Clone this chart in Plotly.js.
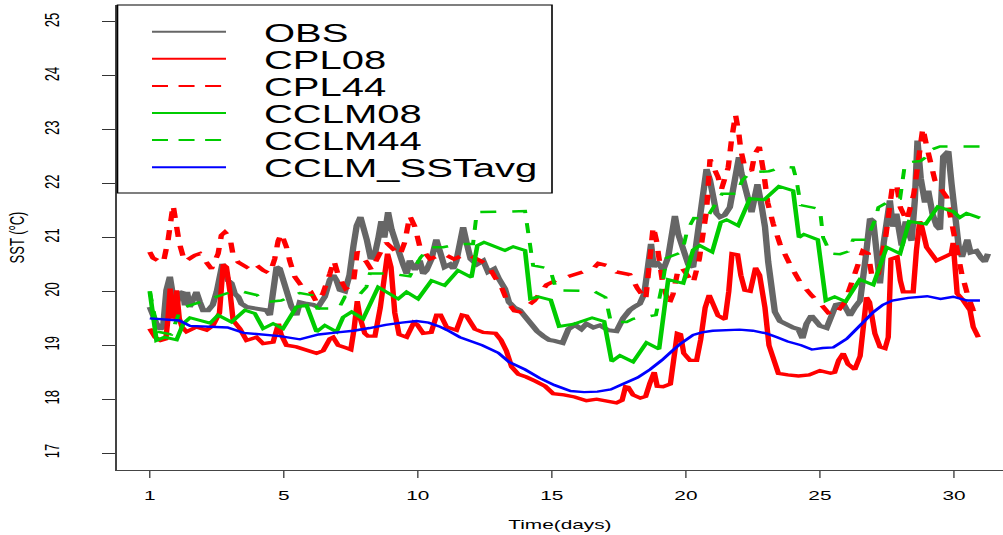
<!DOCTYPE html>
<html><head><meta charset="utf-8">
<script src="https://cdn.plot.ly/plotly-3.0.1.min.js"></script>
<style>
html,body{margin:0;padding:0;overflow:hidden;background:#fff;width:1003px;height:535px;}
#wrap{width:627px;height:535px;transform:scaleX(1.59968);transform-origin:0 0;}
</style></head><body><div id="wrap"><div id="chart"></div></div>
<script>
// ---- data (time in days since start, SST in degC) ----
var tickPositions = [0,5,10,15,20,25,30];
var tickLabels = ["1","5","10","15","20","25","30"];
var seriesNames = ["OBS","CPL08","CPL44","CCLM08","CCLM44","CCLM_SSTavg"];

var obsTime = [0,0.12,0.25,0.4,0.5,0.62,0.75,0.84,0.93,1.02,1.12,1.24,1.31,1.39,1.49,1.62,1.74,1.87,1.99,2.18,2.35,2.5,2.61,2.71,2.8,2.92,3.05,3.17,3.3,3.42,3.61,3.98,4.35,4.48,4.6,4.73,4.85,4.97,5.12,5.29,5.47,5.6,5.85,6.1,6.28,6.53,6.72,6.85,6.97,7.09,7.28,7.45,7.6,7.72,7.86,7.98,8.1,8.25,8.4,8.52,8.64,8.75,8.89,9.02,9.14,9.27,9.45,9.58,9.7,9.89,10.07,10.2,10.32,10.51,10.69,10.85,11.0,11.2,11.32,11.44,11.58,11.69,11.82,11.97,12.2,12.44,12.62,12.85,13.03,13.25,13.4,13.6,13.81,14.05,14.24,14.45,14.68,14.9,15.1,15.4,15.62,15.86,16.1,16.29,16.55,16.79,17.1,17.41,17.66,17.9,18.1,18.28,18.45,18.6,18.7,18.8,18.9,19.03,19.15,19.34,19.46,19.59,19.71,19.84,19.96,20.09,20.27,20.4,20.52,20.65,20.77,20.9,21.02,21.14,21.27,21.45,21.64,21.77,21.89,21.98,22.07,22.2,22.33,22.45,22.57,22.67,22.82,22.95,23.07,23.2,23.32,23.51,23.76,24.0,24.2,24.35,24.5,24.68,24.85,25.0,25.25,25.45,25.6,25.87,26.12,26.3,26.5,26.7,26.87,26.99,27.11,27.24,27.38,27.5,27.61,27.72,27.85,28.05,28.2,28.3,28.42,28.54,28.64,28.76,28.92,29.04,29.2,29.35,29.48,29.6,29.79,29.91,30.04,30.18,30.3,30.5,30.62,30.84,31.02,31.15,31.27];
var obsSST = [19.71,19.52,19.4,19.3,19.35,20.02,20.27,20.0,19.52,19.8,19.96,19.99,19.74,19.99,19.71,19.85,19.99,19.8,19.65,19.65,19.75,20.0,20.27,20.51,20.4,20.2,20.15,19.96,19.9,19.77,19.71,19.68,19.65,19.56,20.02,20.45,20.42,20.2,19.95,19.71,19.56,19.8,19.77,19.75,19.71,19.9,20.22,20.3,20.2,20.03,20.0,20.3,20.85,21.22,21.38,21.2,20.95,20.6,20.7,20.97,21.3,21.0,21.47,21.15,20.97,20.7,20.5,20.33,20.57,20.4,20.57,20.33,20.39,20.6,20.96,20.7,20.45,20.5,20.42,20.57,20.9,21.19,20.9,20.6,20.5,20.57,20.36,20.42,20.23,20.05,19.8,19.7,19.65,19.5,19.38,19.26,19.17,19.1,19.08,19.04,19.3,19.38,19.3,19.4,19.33,19.37,19.28,19.26,19.5,19.65,19.72,19.77,19.96,20.6,20.88,20.45,20.55,20.48,20.39,20.64,21.1,21.4,21.07,20.85,20.74,20.5,20.45,20.9,21.5,21.87,22.27,22.06,21.7,21.45,21.38,21.42,21.56,21.93,22.3,22.49,22.2,21.93,21.75,21.47,21.75,21.99,21.6,21.2,20.55,20.02,19.62,19.45,19.38,19.33,19.3,19.13,19.4,19.55,19.45,19.36,19.32,19.6,19.75,19.78,19.55,19.7,19.83,20.6,21.35,21.3,20.82,20.15,20.9,21.4,21.69,21.2,21.44,20.85,21.3,21.1,20.94,21.69,22.8,22.1,21.65,21.87,21.44,21.22,21.15,22.5,22.6,22.0,21.45,20.82,20.64,20.96,20.72,20.75,20.62,20.55,20.7];

var cpl08Time = [0,0.2,0.4,0.6,0.68,0.76,0.85,0.93,1.0,1.1,1.2,1.37,1.74,2.12,2.36,2.6,2.74,2.86,2.99,3.11,3.36,3.61,3.98,4.23,4.6,4.8,4.9,5.1,5.47,5.85,6.22,6.47,6.72,6.84,7.03,7.34,7.5,7.62,7.74,7.84,8.02,8.14,8.4,8.6,8.77,8.87,9.0,9.14,9.3,9.58,9.85,9.98,10.2,10.5,10.7,10.85,11.07,11.44,11.65,11.82,12.13,12.44,12.9,13.1,13.3,13.5,13.75,14.05,14.4,14.75,15.05,15.45,15.85,16.29,16.67,17.04,17.41,17.62,17.75,17.85,18.03,18.3,18.5,18.66,18.82,18.93,19.15,19.42,19.55,19.68,19.8,19.92,20.15,20.4,20.55,20.72,20.87,21.0,21.2,21.46,21.6,21.72,21.93,22.05,22.2,22.4,22.6,22.75,22.95,23.1,23.25,23.45,23.8,24.2,24.6,25.0,25.4,25.55,25.7,25.87,26.05,26.3,26.5,26.62,26.74,26.85,27.05,27.24,27.43,27.55,27.65,27.88,28.0,28.11,28.48,28.6,28.72,28.8,28.98,29.16,29.35,29.73,29.9,29.97,30.05,30.12,30.35,30.6,30.72,30.91];
var cpl08SST = [19.31,19.15,19.09,19.12,19.5,20.05,19.5,19.55,20.02,19.5,19.34,19.25,19.34,19.28,19.37,19.6,20.5,20.45,20.0,19.46,19.31,19.09,19.15,19.03,19.06,19.4,19.2,19.0,18.97,18.91,18.85,18.9,19.12,19.15,19.0,18.95,18.92,19.3,19.82,19.52,19.22,19.17,19.17,19.7,20.3,20.7,20.45,19.6,19.2,19.15,19.42,19.38,19.22,19.24,19.56,19.56,19.34,19.28,19.56,19.54,19.3,19.24,19.22,19.1,18.9,18.6,18.46,18.41,18.33,18.24,18.1,18.08,18.04,17.97,18.0,17.96,17.93,17.98,18.23,18.22,18.08,18.02,18.05,18.3,18.5,18.24,18.23,18.28,18.8,19.22,19.2,18.85,18.72,18.72,19.1,19.7,19.93,19.8,19.55,19.48,20.0,20.7,20.68,20.3,20.02,20.0,20.44,20.3,19.7,19.0,18.75,18.48,18.45,18.43,18.45,18.53,18.48,18.5,18.72,18.85,18.65,18.55,18.8,19.3,19.89,19.8,19.22,18.97,18.94,19.15,20.6,20.64,20.2,19.99,19.99,20.76,21.3,21.2,20.82,20.7,20.57,20.66,20.7,20.9,20.4,19.96,19.83,19.65,19.34,19.15];

var cpl44Time = [0,0.12,0.5,0.68,0.87,0.97,1.1,1.3,1.68,1.87,2.3,2.55,2.67,2.8,2.99,3.11,3.3,3.61,3.85,4.23,4.48,4.66,4.79,4.91,5.1,5.22,5.41,5.72,6.0,6.22,6.45,6.72,6.87,7.03,7.3,7.59,7.74,8.08,8.27,8.58,8.83,9.33,9.51,9.7,9.89,10.07,10.45,10.94,11.35,11.82,12.19,12.6,12.87,13.12,13.35,13.6,13.81,14.35,14.8,15.17,15.7,16.1,16.54,16.73,17.04,17.41,17.91,18.2,18.5,18.78,18.9,19.12,19.36,19.52,19.7,19.84,20.27,20.5,20.77,20.9,21.2,21.33,21.58,21.7,21.85,21.97,22.05,22.2,22.45,22.57,22.74,22.92,23.05,23.26,23.51,23.88,24.25,24.7,25.06,25.4,25.62,25.93,26.37,26.6,26.8,26.95,27.18,27.45,27.7,27.86,28.0,28.24,28.5,28.67,28.84,28.98,29.1,29.29,29.73,29.97,30.29,30.5,30.72,30.9];
var cpl44SST = [20.73,20.62,20.52,20.94,21.6,21.3,20.9,20.55,20.67,20.7,20.42,20.7,21.04,21.1,21.0,20.67,20.54,20.45,20.54,20.39,20.33,20.6,20.94,21.07,20.82,20.57,20.27,20.06,20.0,19.8,19.95,20.33,20.57,20.3,20.05,20.14,20.74,20.55,20.4,20.7,20.9,20.67,20.91,21.4,21.2,20.84,20.6,20.7,20.6,20.7,20.6,20.5,20.27,20.08,19.8,19.64,19.62,19.83,20.12,20.21,20.29,20.35,20.42,20.52,20.48,20.36,20.31,20.05,19.85,21.2,20.95,20.2,19.75,19.95,20.38,20.45,20.15,20.6,21.5,22.45,22.12,21.9,22.3,22.8,23.28,22.95,22.62,22.3,22.24,22.55,22.68,22.15,21.65,21.25,20.88,20.5,20.18,19.92,19.75,19.55,19.6,19.8,20.45,20.75,20.7,20.25,20.33,21.0,21.93,21.99,21.56,21.31,21.8,22.5,23.03,22.7,22.43,22.06,21.75,21.1,20.33,19.95,19.65,19.5];

var cclm08Time = [0,0.25,0.55,1.0,1.25,1.5,2.25,2.55,3.05,3.55,3.92,4.23,4.6,4.97,5.47,5.85,6.22,6.53,6.97,7.21,7.53,7.96,8.52,9.27,9.58,10.01,10.51,11.0,11.5,12.0,12.22,12.47,13.25,13.56,14.0,14.2,14.49,14.96,15.27,15.8,16.5,16.95,17.23,17.54,18.03,18.53,19.0,19.25,19.34,19.9,20.27,20.52,20.98,21.3,21.52,21.95,22.39,22.92,23.47,24.0,24.22,24.4,24.92,25.22,25.55,25.96,26.49,26.99,27.49,27.99,28.33,28.95,29.4,29.98,30.22,30.47,30.97];
var cclm08SST = [20.0,19.09,19.15,19.1,19.4,19.51,19.41,19.56,19.43,19.65,19.59,19.31,19.4,19.31,19.71,19.74,19.25,19.37,19.25,19.52,19.62,19.49,20.08,19.86,19.99,19.86,20.2,20.11,20.39,20.26,20.85,20.91,20.76,20.83,20.76,19.86,19.9,19.84,19.35,19.39,19.51,19.44,18.7,18.81,18.69,19.05,18.93,19.96,20.22,20.15,20.77,20.85,20.73,21.28,21.33,21.22,21.72,21.7,21.95,21.87,21.0,21.06,20.96,19.83,19.9,19.81,20.22,20.12,20.82,20.7,21.3,21.25,21.57,21.48,21.37,21.45,21.36];

var cclm44Time = [0,0.3,0.8,1.15,1.5,2.2,3.1,3.5,4.0,4.3,4.9,5.6,6.05,6.25,7.05,7.28,7.77,8.08,8.21,8.96,9.7,10.1,10.45,10.94,11.63,12.06,12.2,14.0,14.12,14.3,14.93,15.17,16.54,17.0,17.2,17.79,18.03,18.88,19.15,19.28,19.86,20.05,20.3,20.77,21.1,21.35,21.9,22.1,22.4,23.1,23.63,24.0,24.13,24.28,25.0,25.12,25.4,25.75,26.05,26.24,26.74,27.08,27.18,27.65,27.99,28.17,28.36,28.75,28.98,29.1,29.48,30.97];
var cclm44SST = [20.0,19.25,19.2,19.68,19.74,19.85,20.0,19.99,19.93,19.8,19.83,19.97,19.93,19.68,19.68,19.9,19.91,20.08,20.33,20.33,20.28,20.63,20.82,20.82,20.88,20.88,21.47,21.49,21.13,20.48,20.42,20.02,20.01,19.89,19.43,19.43,19.49,19.56,20.2,20.62,20.73,21.13,21.36,21.35,21.62,21.81,21.81,22.06,22.21,22.23,22.31,22.3,22.06,21.6,21.53,21.0,20.7,20.69,20.74,20.96,20.96,21.35,21.56,21.69,21.72,22.36,22.4,22.42,22.5,22.62,22.69,22.69];

var sstavgTime = [0,0.5,1.1,1.5,2.0,2.9,3.5,4.2,4.85,5.6,6.3,7.0,7.6,8.2,8.8,9.4,9.95,10.4,10.8,11.1,11.57,12.4,13.0,13.4,14.0,14.55,15.1,15.7,16.2,16.7,17.2,17.65,18.2,18.66,19.1,19.5,19.8,20.27,20.6,21.0,21.5,22.0,22.5,23.0,23.4,23.8,24.3,24.7,25.1,25.5,26.0,26.5,27.0,27.35,27.7,28.3,29.0,29.5,29.97,30.5,30.97];
var sstavgSST = [19.5,19.48,19.46,19.36,19.35,19.33,19.23,19.2,19.17,19.11,19.2,19.24,19.27,19.32,19.38,19.42,19.45,19.42,19.35,19.28,19.15,19.0,18.86,18.69,18.55,18.39,18.26,18.15,18.13,18.14,18.18,18.28,18.4,18.55,18.72,18.9,19.03,19.19,19.24,19.27,19.28,19.29,19.27,19.22,19.15,19.07,19.0,18.92,18.95,18.96,19.12,19.36,19.62,19.75,19.83,19.88,19.91,19.86,19.9,19.83,19.83];

// ---- styles ----
var styles = [
  {color:"#666666", width:4,   dash:"solid"},
  {color:"#ff0000", width:3.4, dash:"solid"},
  {color:"#ff0000", width:3.4, dash:"10px,9px"},
  {color:"#00cc00", width:2.9, dash:"solid"},
  {color:"#00cc00", width:2.5, dash:"10px,10px"},
  {color:"#0000ff", width:2.4, dash:"solid"}
];
var xs = [obsTime, cpl08Time, cpl44Time, cclm08Time, cclm44Time, sstavgTime];
var ys = [obsSST, cpl08SST, cpl44SST, cclm08SST, cclm44SST, sstavgSST];

var S = 1003/627;            // horizontal stretch applied by CSS
var W = 627, H = 535;
var ml = 73, mr = 0, mt = 5, mb = 65;
var plotW = W - ml - mr, plotH = H - mt - mb;
function pxX(finalPx){ return (finalPx / S - ml) / plotW; }
function pxY(py){ return 1 - (py - mt) / plotH; }

var FONT = "Liberation Sans, Arial, Helvetica, sans-serif";

var traces = seriesNames.map(function(n, i){
  return {type:"scatter", mode:"lines", name:n, x:xs[i], y:ys[i],
    line:{color:styles[i].color, width:styles[i].width, dash:styles[i].dash},
    hoverinfo:"skip", showlegend:false};
});

// custom legend (R style)
var shapes = [{type:"rect", xref:"paper", yref:"paper", layer:"above",
  x0:pxX(117.5), x1:pxX(552), y0:pxY(193), y1:pxY(5),
  fillcolor:"#ffffff", line:{color:"#000000", width:1}}];
var annotations = [];
var rowY = [31.7, 58.8, 85.9, 113.0, 140.1, 167.2];
seriesNames.forEach(function(n, i){
  shapes.push({type:"line", xref:"paper", yref:"paper", layer:"above",
    x0:pxX(152), x1:pxX(226), y0:pxY(rowY[i]), y1:pxY(rowY[i]),
    line:{color:styles[i].color, width:2, dash: styles[i].dash === "solid" ? "solid" : "10px,6.6px"}});
  annotations.push({xref:"paper", yref:"paper", x:pxX(260), y:pxY(rowY[i]+1),
    xanchor:"left", yanchor:"middle", showarrow:false, text:n,
    font:{family:FONT, size:25, color:"#000"}});
});

var layout = {
  width:W, height:H, margin:{l:ml, r:mr, t:mt, b:mb, pad:0},
  paper_bgcolor:"#fff", plot_bgcolor:"#fff", showlegend:false,
  font:{family:FONT, color:"#000"},
  xaxis:{range:[-1.231, 31.83], tickvals:tickPositions, ticktext:tickLabels,
    showgrid:false, zeroline:false, showline:true, linecolor:"#444", linewidth:1,
    ticks:"outside", ticklen:7, tickwidth:0.8, tickcolor:"#333",
    tickfont:{family:FONT, size:13, color:"#000"}, ticklabelstandoff:6,
    title:{text:"Time(days)", font:{family:FONT, size:13, color:"#000"}, standoff:18}},
  yaxis:{range:[16.685, 25.315], tickvals:[17,18,19,20,21,22,23,24,25],
    showgrid:false, zeroline:false, showline:true, linecolor:"#444", linewidth:1,
    ticks:"outside", ticklen:8, tickwidth:1, tickcolor:"#333", tickangle:-90,
    tickfont:{family:FONT, size:13, color:"#000"}, ticklabelstandoff:22,
    title:{text:"SST (°C)", font:{family:FONT, size:13, color:"#000"}, standoff:6}},
  shapes:shapes, annotations:annotations
};

Plotly.newPlot("chart", traces, layout, {displayModeBar:false, staticPlot:true});
</script></body></html>
